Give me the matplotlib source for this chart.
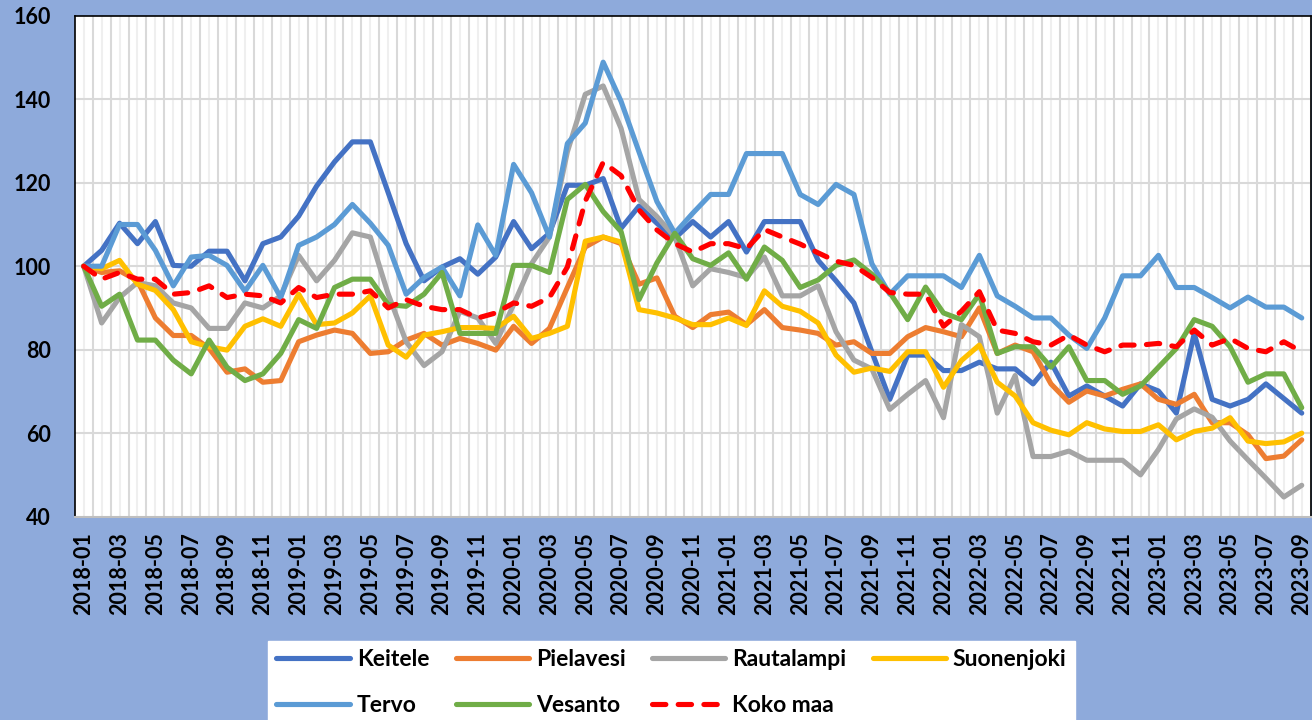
import numpy as np
import pandas as pd
import matplotlib
matplotlib.use("Agg")
import matplotlib.pyplot as plt

plt.rcParams['font.family'] = ['Lato', 'DejaVu Sans']
plt.rcParams['font.weight'] = 'bold'

# Kuukaudet 2018-01 ... 2023-09
kuukaudet = pd.period_range('2018-01', '2023-09', freq='M').strftime('%Y-%m').tolist()

keitele = [100, 103.8, 110.3, 105.4, 110.7, 100.2, 100, 103.6, 103.6, 96.5, 105.4, 107,
           112, 119.2, 125, 129.8, 129.8, 117.6, 105.4, 96.5, 99.8, 101.8, 98.1, 102.2,
           110.7, 104.2, 107.9, 119.4, 119.4, 121, 109.1, 114.4, 110.3, 106.7, 110.7, 107,
           110.7, 103.4, 110.7, 110.7, 110.7, 101.4, 96.5, 91.2, 79.5, 68.1, 78.7, 78.7,
           75, 75, 77, 75.4, 75.4, 71.8, 77, 68.9, 71.3, 68.9, 66.5, 71.8,
           70.1, 64.8, 83.9, 68.1, 66.5, 68.1, 71.8, 68.3, 64.8]
pielavesi = [100, 98.5, 98.9, 96.5, 87.6, 83.4, 83.4, 80.3, 74.6, 75.4, 72.2, 72.6,
             81.9, 83.5, 84.7, 83.9, 79.1, 79.5, 82.3, 83.9, 81.1, 82.7, 81.5, 79.9,
             85.6, 81.5, 85.1, 94.9, 104.6, 107, 105.4, 95.7, 97.2, 88, 85.3, 88.4,
             89, 86, 89.6, 85.3, 84.7, 83.9, 81.1, 81.9, 79.1, 79.1, 83.1, 85.3,
             84.3, 83.1, 90, 79.1, 81.1, 79.5, 71.8, 67.4, 70.1, 68.9, 70.5, 71.8,
             68.1, 66.9, 69.3, 62.5, 62.5, 59.6, 53.9, 54.5, 58.4]
rautalampi = [100, 86.4, 92.5, 96.1, 95.3, 91.2, 90, 85.1, 85.1, 91.2, 90, 92.9,
              102.6, 96.5, 101.4, 108, 107, 93.3, 81.9, 76.2, 79.5, 89.2, 87.6, 81.5,
              90.8, 100.6, 107, 127.4, 141.2, 143.2, 133, 116, 111.9, 107, 95.3, 99.4,
              98.5, 97.3, 102.2, 92.9, 92.9, 95.3, 84.3, 77.5, 75.4, 65.7, 69.3, 72.6,
              63.7, 86, 83.1, 64.8, 73.8, 54.4, 54.4, 55.7, 53.5, 53.5, 53.5, 50,
              56.1, 63.4, 65.8, 63.8, 58.1, 53.6, 49.2, 44.7, 47.5]
suonenjoki = [100, 99.4, 101.4, 95.7, 94.2, 89.6, 81.9, 80.7, 79.9, 85.6, 87.4, 85.6,
              93.3, 86, 86.4, 88.8, 92.9, 81.1, 78.2, 83.5, 84.3, 85.3, 85.3, 85.1,
              88, 82.7, 83.9, 85.6, 106, 107, 105.8, 89.6, 88.8, 87.6, 86, 86,
              87.6, 85.8, 94.1, 90.4, 89.2, 86.4, 78.7, 74.6, 75.6, 74.8, 79.5, 79.5,
              71, 77.4, 81.1, 72.2, 68.9, 62.5, 60.7, 59.6, 62.5, 61, 60.4, 60.4,
              62, 58.4, 60.4, 61.2, 63.7, 58.1, 57.5, 57.9, 60]
tervo = [100, 100, 110, 110, 103.8, 95.3, 102.2, 102.6, 100.2, 94, 100.2, 92.5,
         105, 107, 110, 114.8, 110.3, 105, 93.3, 97.3, 99.8, 92.9, 109.9, 102.6,
         124.4, 117.6, 107, 129.4, 134.3, 148.9, 139.5, 127.4, 115.5, 107.9, 112.7, 117.2,
         117.2, 127, 127, 127, 117.2, 114.8, 119.6, 117.2, 100.6, 93.3, 97.7, 97.7,
         97.7, 94.9, 102.6, 92.9, 90.4, 87.6, 87.6, 83.5, 80.3, 87.6, 97.7, 97.7,
         102.6, 94.9, 94.9, 92.5, 90, 92.6, 90.2, 90.2, 87.6]
vesanto = [100, 90.4, 93.3, 82.3, 82.3, 77.5, 74.2, 82.3, 75.8, 72.6, 74.2, 79.1,
           87.2, 85.1, 94.9, 96.9, 96.9, 90.8, 90.4, 93.3, 98.5, 83.9, 83.9, 83.9,
           100.2, 100.2, 98.5, 116, 119.6, 113.1, 108.3, 92, 100.8, 107.9, 101.8, 100.2,
           103.2, 96.9, 104.6, 101.4, 94.9, 96.7, 100.2, 101.5, 98.1, 93.7, 87.2, 95,
           88.8, 87.2, 93.3, 79.1, 80.7, 80.7, 75.8, 80.7, 72.6, 72.6, 69.3, 71.3,
           75.8, 80.3, 87.2, 85.6, 80.7, 72.2, 74.2, 74.2, 66.1]
koko_maa = [100, 96.9, 98.5, 96.9, 96.9, 93.3, 93.7, 95.3, 92.5, 93.3, 92.9, 91.2,
            94.9, 92.5, 93.3, 93.3, 94.1, 90, 92, 90.4, 89.6, 89.6, 87.6, 88.8,
            91.2, 90.4, 92.5, 99.8, 115.6, 124.9, 121.7, 113.5, 108.7, 105.4, 103.4, 105.4,
            105.4, 104.2, 108.8, 107, 105.3, 103.2, 101.2, 100.2, 97.3, 93.7, 93.3, 93.3,
            85.6, 89.2, 93.9, 84.7, 83.9, 81.9, 81.1, 83.5, 81.1, 79.5, 81.1, 81.1,
            81.5, 80.7, 84.7, 81.1, 82.7, 80.3, 79.5, 81.9, 79.5]

sarjat = [
    ('Keitele', keitele, '#4472C4', '-'),
    ('Pielavesi', pielavesi, '#ED7D31', '-'),
    ('Rautalampi', rautalampi, '#A5A5A5', '-'),
    ('Suonenjoki', suonenjoki, '#FFC000', '-'),
    ('Tervo', tervo, '#5B9BD5', '-'),
    ('Vesanto', vesanto, '#70AD47', '-'),
    ('Koko maa', koko_maa, '#FF0000', (0, (2.6, 2.4))),
]

fig = plt.figure(figsize=(13.12, 7.2), dpi=100, facecolor='#8EAADB')
ax = fig.add_axes([0.057, 0.2825, 0.942, 0.6955])
ax.set_facecolor('white')

x = np.arange(len(kuukaudet))

# pystysuuntaiset ruudukkoviivat: tummempi kuukausien välissä, vaaleampi keskellä
for k in range(len(kuukaudet)):
    ax.axvline(k, color='#EFEFEF', lw=1.5, zorder=0)
    ax.axvline(k + 0.5, color='#D9D9D9', lw=1.5, zorder=0)
for yv in range(60, 160, 20):
    ax.axhline(yv, color='#D9D9D9', lw=1.5, zorder=0)

viivat = {}
for nimi, arvot, vari, tyyli in sarjat:
    l, = ax.plot(x, arvot, color=vari, lw=3.7, linestyle=tyyli, label=nimi,
                 solid_capstyle='round', solid_joinstyle='round',
                 dash_capstyle='round', zorder=3)
    viivat[nimi] = l

ax.set_xlim(-0.5, len(kuukaudet) - 0.5)
ax.set_ylim(40, 160)
ax.set_yticks(range(40, 161, 20))
ax.set_xticks(x[::2])
ax.set_xticklabels(kuukaudet[::2], rotation=90)
ax.tick_params(axis='both', length=0, labelsize=15.5)
ax.tick_params(axis='x', pad=11)
ax.tick_params(axis='y', pad=17)

for s in ['left', 'top', 'right']:
    ax.spines[s].set_color('black')
    ax.spines[s].set_linewidth(1.2)
ax.spines['bottom'].set_color('#BFBFBF')
ax.spines['bottom'].set_linewidth(1.5)

jarjestys = ['Keitele', 'Tervo', 'Pielavesi', 'Vesanto', 'Rautalampi', 'Koko maa', 'Suonenjoki']
leg = fig.legend([viivat[n] for n in jarjestys], jarjestys, ncol=4,
                 loc='upper left', bbox_to_anchor=(257 / 1312, 1 - 630 / 720),
                 fontsize=16.5, handlelength=3.2, handletextpad=0.3,
                 columnspacing=1.15, labelspacing=1.05, borderpad=0.35,
                 frameon=True, fancybox=False, framealpha=1)
leg.get_frame().set_facecolor('white')
leg.get_frame().set_edgecolor('white')

fig.savefig('out.png', dpi=100, facecolor=fig.get_facecolor())
